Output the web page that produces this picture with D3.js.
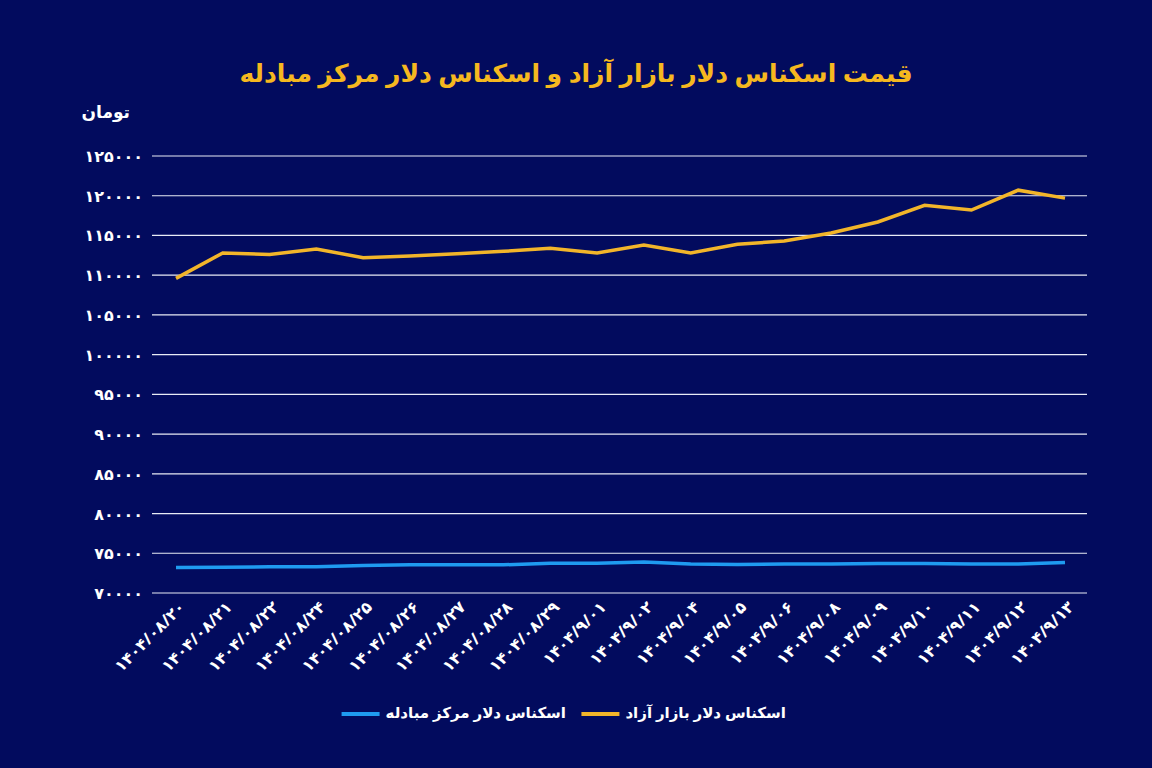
<!DOCTYPE html><html><head><meta charset="utf-8">
<script src="https://cdn.jsdelivr.net/npm/d3@7"></script>
<style>body{margin:0;background:#020b5e}</style></head><body><svg id="c" width="1152" height="768"></svg>
<script>
const dates=["1404/08/20","1404/08/21","1404/08/22","1404/08/24","1404/08/25","1404/08/26","1404/08/27","1404/08/28","1404/08/29","1404/9/01","1404/9/02","1404/9/04","1404/9/05","1404/9/06","1404/9/08","1404/9/09","1404/9/10","1404/9/11","1404/9/12","1404/9/13"];
const free=[109600,112800,112600,113300,112200,112400,112700,113000,113400,112800,113800,112800,113900,114300,115300,116700,118800,118200,120700,119700];
const official=[73200,73250,73300,73300,73450,73550,73550,73550,73750,73750,73900,73650,73600,73650,73650,73700,73700,73650,73650,73850];
const yTicks=[70000,75000,80000,85000,90000,95000,100000,105000,110000,115000,120000,125000];
const fa=s=>String(s).replace(/\d/g,d=>"۰۱۲۳۴۵۶۷۸۹"[d]);
const svg=d3.select("#c"),font="Noto Sans, DejaVu Sans, sans-serif";
svg.append("rect").attr("width",1152).attr("height",768).attr("fill","#020b5e");
const x=d3.scalePoint().domain(dates).range([176,1065]);
const y=d3.scaleLinear().domain([70000,125000]).range([593,156]);
const g=svg.append("g");
g.selectAll("line.g").data(yTicks).join("line").attr("x1",152).attr("x2",1087)
 .attr("y1",d=>y(d)).attr("y2",d=>y(d)).attr("stroke","#e8ebf5").attr("stroke-width",1.2);
g.selectAll("text.y").data(yTicks).join("text").attr("x",143).attr("y",d=>y(d)+6)
 .attr("text-anchor","end").attr("direction","ltr").attr("fill","#fff").attr("font-family",font).attr("font-weight","bold").attr("font-size",16).text(d=>fa(d));
svg.append("text").attr("x",130).attr("y",118).attr("text-anchor","end").attr("fill","#fff").attr("font-family",font).attr("font-weight","bold").attr("font-size",17).text("تومان");
g.selectAll("text.x").data(dates).join("text").attr("direction","ltr")
 .attr("transform",d=>`translate(${x(d)+10},${608}) rotate(-45)`).attr("text-anchor","end")
 .attr("fill","#fff").attr("font-family",font).attr("font-weight","bold").attr("font-size",16).text(d=>fa(d));
const line=d3.line().x((d,i)=>x(dates[i])).y(d=>y(d));
svg.append("path").datum(free).attr("d",line).attr("fill","none").attr("stroke","#f2b52a").attr("stroke-width",3.5);
svg.append("path").datum(official).attr("d",line).attr("fill","none").attr("stroke","#1f9bf0").attr("stroke-width",3.5);
svg.append("text").attr("x",576).attr("y",82).attr("text-anchor","middle").attr("fill","#f6b81f").attr("font-family",font).attr("font-weight","bold").attr("font-size",25).text("قیمت اسکناس دلار بازار آزاد و اسکناس دلار مرکز مبادله");
const lg=[{t:"اسکناس دلار بازار آزاد",c:"#f2b52a",x:786},{t:"اسکناس دلار مرکز مبادله",c:"#1f9bf0",x:566}];
lg.forEach(l=>{
 const t=svg.append("text").attr("x",l.x).attr("y",718).attr("text-anchor","end").attr("fill","#fff").attr("font-family",font).attr("font-weight","bold").attr("font-size",15).text(l.t);
 const w=t.node().getBBox().width;
 svg.append("line").attr("x1",l.x-w-44).attr("x2",l.x-w-6).attr("y1",714).attr("y2",714).attr("stroke",l.c).attr("stroke-width",4);
});
</script></body></html>
